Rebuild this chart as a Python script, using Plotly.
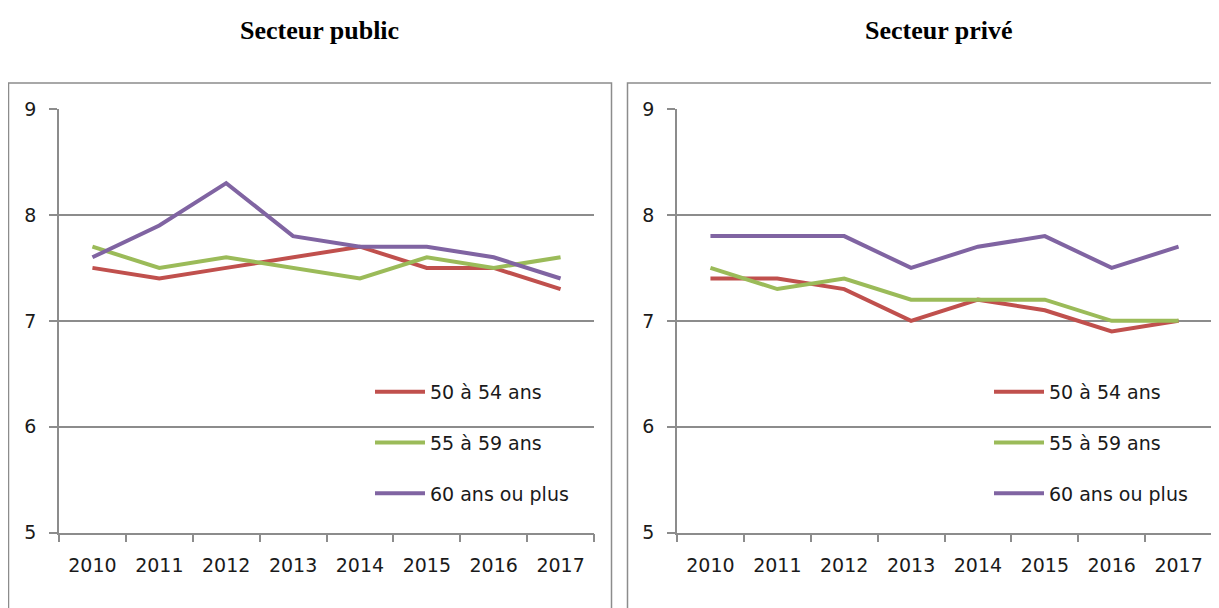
import plotly.graph_objects as go

years = ["2010", "2011", "2012", "2013", "2014", "2015", "2016", "2017"]
series_names = ["50 à 54 ans", "55 à 59 ans", "60 ans ou plus"]
colors = ["#C0504D", "#9BBB59", "#8064A2"]

public_50_54 = [7.5, 7.4, 7.5, 7.6, 7.7, 7.5, 7.5, 7.3]
public_55_59 = [7.7, 7.5, 7.6, 7.5, 7.4, 7.6, 7.5, 7.6]
public_60_plus = [7.6, 7.9, 8.3, 7.8, 7.7, 7.7, 7.6, 7.4]

private_50_54 = [7.4, 7.4, 7.3, 7.0, 7.2, 7.1, 6.9, 7.0]
private_55_59 = [7.5, 7.3, 7.4, 7.2, 7.2, 7.2, 7.0, 7.0]
private_60_plus = [7.8, 7.8, 7.8, 7.5, 7.7, 7.8, 7.5, 7.7]

y_ticks = [5, 6, 7, 8, 9]
titles = ["Secteur public", "Secteur privé"]

W, H = 1219, 608
OFF = 8  # page body margin
FONT = "DejaVu Sans"
GRID = "#8C8C8C"

def px(x):
    return (x - OFF) / W

def py(y):
    return 1 - (y - OFF) / H

fig = go.Figure()

panels = [
    ("x", "y", "legend", [public_50_54, public_55_59, public_60_plus]),
    ("x2", "y2", "legend2", [private_50_54, private_55_59, private_60_plus]),
]
for pi, (xa, ya, lg, data) in enumerate(panels):
    for name, vals, col in zip(series_names, data, colors):
        fig.add_trace(go.Scatter(
            x=years, y=vals, mode="lines", name=name,
            line=dict(color=col, width=4),
            xaxis=xa, yaxis=ya, legend=lg,
            legendgroup=f"p{pi}_{name}",
            hoverinfo="skip",
        ))

ydom = [py(532.7), py(109)]
axis_common_x = dict(
    type="category", range=[-0.5, len(years) - 0.5],
    showgrid=False, showline=True, linecolor=GRID, linewidth=1.5,
    ticks="outside", ticklen=8, tickcolor=GRID, tickwidth=1.5, tickson="boundaries",
    tickfont=dict(family=FONT, size=19, color="#1a1a1a"), ticklabelstandoff=15,
    fixedrange=True, zeroline=False, automargin=False,
)
axis_common_y = dict(
    range=[5, 9], tickvals=y_ticks, showgrid=True, gridcolor=GRID, gridwidth=1.5,
    showline=True, linecolor=GRID, linewidth=1.5,
    ticks="outside", ticklen=8, tickcolor=GRID, tickwidth=1.5,
    tickfont=dict(family=FONT, size=19, color="#1a1a1a"), ticklabelstandoff=9,
    fixedrange=True, zeroline=False, automargin=False,
)

legend_common = dict(
    xanchor="left", yanchor="top",
    font=dict(family=FONT, size=19, color="#1a1a1a"),
    bgcolor="rgba(255,255,255,0)", tracegroupgap=23, itemwidth=50,
)

fig.update_layout(
    width=W, height=H, autosize=False,
    margin=dict(l=0, r=0, t=0, b=0, pad=0, autoexpand=False),
    paper_bgcolor="white", plot_bgcolor="white",
    xaxis=dict(domain=[px(59), px(594)], anchor="y", **axis_common_x),
    yaxis=dict(domain=ydom, anchor="x", **axis_common_y),
    xaxis2=dict(domain=[px(677), px(1212)], anchor="y2", **axis_common_x),
    yaxis2=dict(domain=ydom, anchor="x2", **axis_common_y),
    legend=dict(x=px(370), y=py(373), **legend_common),
    legend2=dict(x=px(989), y=py(373), **legend_common),
    showlegend=True,
)

# panel frames
fig.add_shape(type="rect", xref="paper", yref="paper",
              x0=px(8.5), x1=px(611.5), y0=py(640), y1=py(83),
              line=dict(color="#8C8C8C", width=1.5), fillcolor="rgba(0,0,0,0)", layer="below")
fig.add_shape(type="rect", xref="paper", yref="paper",
              x0=px(627.5), x1=px(1240), y0=py(640), y1=py(83),
              line=dict(color="#8C8C8C", width=1.5), fillcolor="rgba(0,0,0,0)", layer="below")

for t, cx in zip(titles, [319, 939]):
    fig.add_annotation(text=f"<b>{t}</b>", xref="paper", yref="paper",
                       x=px(cx), y=py(30), showarrow=False,
                       font=dict(family="Liberation Serif", size=26, color="black"),
                       xanchor="center", yanchor="middle")

fig.write_html("out.html")
